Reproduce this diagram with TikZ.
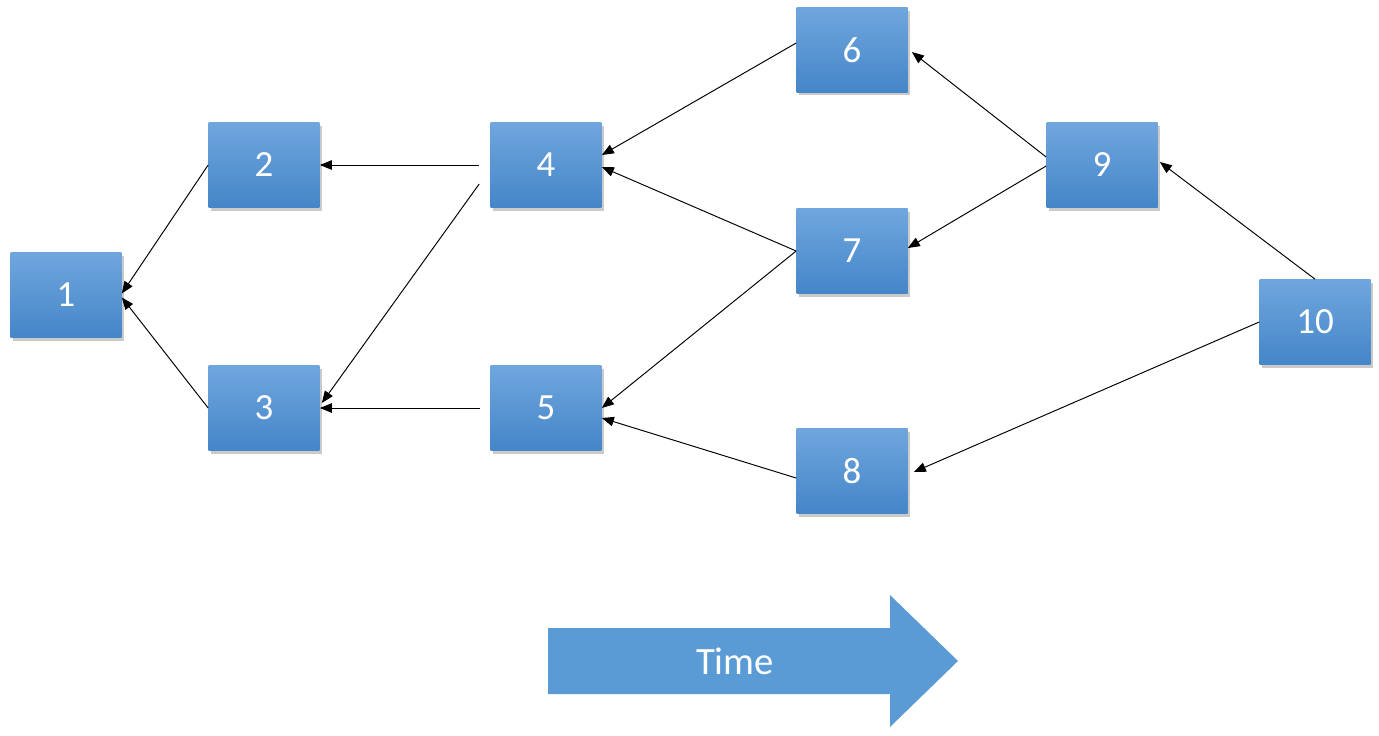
\documentclass[tikz,border=0pt]{standalone}
\usepackage{fontspec}
\setmainfont{Carlito}
\usetikzlibrary{arrows.meta,shadows}

\definecolor{boxtop}{RGB}{112,166,222}
\definecolor{boxbot}{RGB}{68,134,200}
\definecolor{timeblue}{RGB}{91,155,213}

\tikzset{
	task/.style={rectangle,minimum width=2.22cm,minimum height=1.7cm,
		top color=boxtop,bottom color=boxbot,text=white,font=\fontsize{21}{24}\selectfont,
		drop shadow={shadow xshift=0.05cm,shadow yshift=-0.06cm,opacity=0.35,fill=black!60}},
	dep/.style={draw=black,line width=0.55pt,-{Triangle[length=0.24cm,width=0.19cm]}}
}

\begin{document}
\begin{tikzpicture}[x=0.02cm,y=-0.02cm]
\useasboundingbox (0,0) rectangle (1379,735);

% TASKS

\node[task] (n1) at (66,295) {1};
\node[task] (n2) at (264,165) {2};
\node[task] (n3) at (264,408) {3};
\node[task] (n4) at (546,165) {4};
\node[task] (n5) at (546,408) {5};
\node[task] (n6) at (852,50) {6};
\node[task] (n7) at (852,251) {7};
\node[task] (n8) at (852,471) {8};
\node[task] (n9) at (1102,165) {9};
\node[task] (n10) at (1315,322) {10};

% DEPENDENCIES

\draw[dep] (n2.west) -- ([yshift=0.03cm]n1.east);
\draw[dep] (n3.west) -- ([yshift=-0.05cm]n1.east);
\draw[dep,shorten <=0.22cm] (n4.west) -- (n2.east);
\draw[dep] ([xshift=-0.22cm,yshift=-0.38cm]n4.west) -- ([xshift=0.04cm,yshift=0.1cm]n3.east);
\draw[dep,shorten <=0.2cm] (n5.west) -- (n3.east);
\draw[dep] ([yshift=0.14cm]n6.west) -- ([yshift=0.2cm]n4.east);
\draw[dep] (n7.west) -- ([yshift=-0.04cm]n4.east);
\draw[dep] (n7.west) -- (n5.east);
\draw[dep] ([yshift=-0.14cm]n8.west) -- ([yshift=-0.2cm]n5.east);
\draw[dep] ([yshift=0.16cm]n9.west) -- ([xshift=0.08cm,yshift=-0.04cm]n6.east);
\draw[dep] ([yshift=-0.02cm]n9.west) -- ([yshift=0.06cm]n7.east);
\draw[dep] (n10.north) -- ([xshift=0.04cm,yshift=0.06cm]n9.east);
\draw[dep] (n10.west) -- ([xshift=0.12cm,yshift=-0.02cm]n8.east);

% TIME ARROW

\fill[timeblue] (548,628) -- (890,628) -- (890,595) -- (958,661) -- (890,727) -- (890,694) -- (548,694) -- cycle;
\node[text=white,font=\fontsize{22}{26}\selectfont] (time) at (735,661) {Time};

\end{tikzpicture}
\end{document}
